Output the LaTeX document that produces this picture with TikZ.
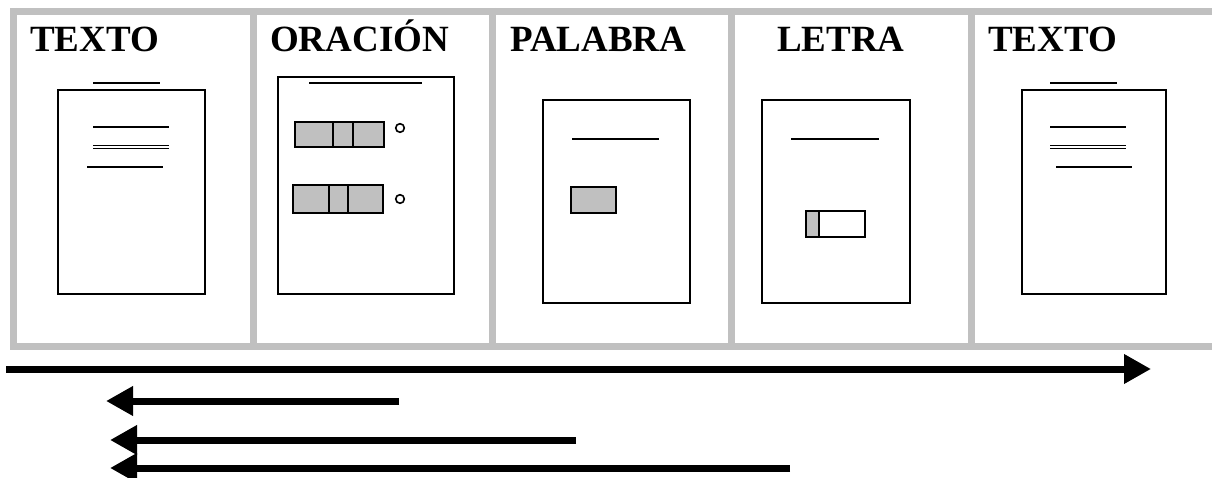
\documentclass[tikz,border=0pt]{standalone}
\usepackage{fontspec}
\setmainfont{Liberation Serif}
\usepackage{color}
\usetikzlibrary{arrows.meta}
\definecolor{framegray}{RGB}{192,192,192}
\definecolor{cellgray}{RGB}{192,192,192}

\begin{document}
\begin{tikzpicture}[x=1pt,y=-1pt,
	panel/.style={draw=framegray,line width=7pt},
	sheet/.style={draw,line width=2pt},
	rule/.style={line width=1.6pt},
	cell/.style={draw,fill=cellgray,line width=2pt},
	title/.style={anchor=base west,inner sep=0pt,font=\fontsize{37}{40}\selectfont\bfseries},
	flow/.style={line width=7pt,-{Triangle[length=27pt,width=28pt]}}]
	\useasboundingbox (0,0) rectangle (1212,478);
	
	% panels
	\draw[panel] (10,11.5) -- (1212,11.5);
	\draw[panel] (10,346.5) -- (1212,346.5);
	\foreach \x in {13.5,253.5,492.5,731.5,971.5}
		\draw[panel] (\x,8) -- (\x,350);
	
	\node[title] (t1) at (30,52)  {TEXTO};
	\node[title] (t2) at (270,52) {ORACIÓN};
	\node[title] (t3) at (510,52) {PALABRA};
	\node[title] (t4) at (777,52) {LETRA};
	\node[title] (t5) at (988,52) {TEXTO};
	
	% texto
	\draw[sheet] (58,90) rectangle (205,294);
	\draw[rule] (93,83) -- (160,83);
	\draw[rule] (93,127) -- (169,127);
	\draw[rule] (93,145.4) -- (169,145.4) (93,148.6) -- (169,148.6);
	\draw[rule] (87,167) -- (163,167);
	
	% oracion
	\draw[sheet] (278,77) rectangle (454,294);
	\draw[rule] (309,83) -- (422,83);
	\draw[cell] (295,122) rectangle (333,147) (333,122) rectangle (353,147) (353,122) rectangle (384,147);
	\draw[rule] (400,128) circle (4.3);
	\draw[cell] (293,185) rectangle (329,213) (329,185) rectangle (348,213) (348,185) rectangle (383,213);
	\draw[rule] (400,199) circle (4.3);
	
	% palabra
	\draw[sheet] (543,100) rectangle (690,303);
	\draw[rule] (572,139) -- (659,139);
	\draw[cell] (571,187) rectangle (616,213);
	
	% letra
	\draw[sheet] (762,100) rectangle (910,303);
	\draw[rule] (791,139) -- (879,139);
	\draw[cell] (806,211) rectangle (819,237);
	\draw[sheet] (819,211) rectangle (865,237);
	
	% texto
	\draw[sheet] (1022,90) rectangle (1166,294);
	\draw[rule] (1050,83) -- (1117,83);
	\draw[rule] (1050,127) -- (1126,127);
	\draw[rule] (1050,145.4) -- (1126,145.4) (1050,148.6) -- (1126,148.6);
	\draw[rule] (1056,167) -- (1132,167);
	
	% arrows
	\coordinate (go0) at (6,369);
	\coordinate (go1) at (1151,369);
	\coordinate (back1a) at (399,401);
	\coordinate (back1b) at (106,401);
	\coordinate (back2a) at (576,440);
	\coordinate (back2b) at (110,440);
	\coordinate (back3a) at (790,468);
	\coordinate (back3b) at (110,468);
	
	\draw[flow] (go0) -- (go1);
	\draw[flow] (back1a) -- (back1b);
	\draw[flow] (back2a) -- (back2b);
	\draw[flow] (back3a) -- (back3b);
	
\end{tikzpicture}
\end{document}
